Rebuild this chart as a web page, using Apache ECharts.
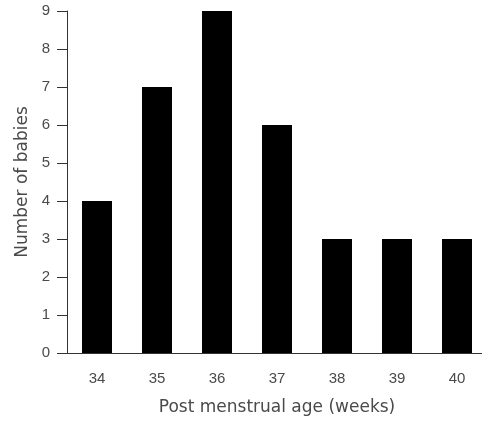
<!DOCTYPE html>
<html>
<head>
<meta charset="utf-8">
<script src="https://cdn.jsdelivr.net/npm/echarts@6/dist/echarts.min.js"></script>
<style>
  html, body { margin: 0; padding: 0; background: #fff; }
  #chart { width: 482px; height: 422px; }
</style>
</head>
<body>
<div id="chart"></div>
<script>
// Distribution of babies by post menstrual age
const weeks = ['34', '35', '36', '37', '38', '39', '40'];
const babies = [4, 7, 9, 6, 3, 3, 3];
const xTitle = 'Post menstrual age (weeks)';
const yTitle = 'Number of babies';

const axisColor = '#333';
const textColor = '#4a4a4a';

const chart = echarts.init(document.getElementById('chart'), null, { renderer: 'canvas' });
chart.setOption({
  animation: false,
  backgroundColor: '#fff',
  grid: {
    left: 67, top: 11, width: 420, height: 342,
    containLabel: false,
    outerBoundsMode: 'none'
  },
  xAxis: {
    type: 'category',
    data: weeks,
    name: xTitle,
    nameLocation: 'middle',
    nameGap: 46,
    nameTextStyle: { fontFamily: 'DejaVu Sans', fontSize: 17, color: textColor },
    axisLine: { lineStyle: { color: axisColor, width: 1 } },
    axisTick: { length: 10, lineStyle: { color: axisColor } },
    axisLabel: { fontFamily: 'Liberation Sans', fontSize: 15, color: textColor, margin: 18 },
    splitLine: { show: false }
  },
  yAxis: {
    type: 'value',
    min: 0,
    max: 9,
    interval: 1,
    name: yTitle,
    nameLocation: 'middle',
    nameGap: 36,
    nameTextStyle: { fontFamily: 'DejaVu Sans', fontSize: 17, color: textColor },
    axisLine: { show: true, lineStyle: { color: axisColor, width: 1 } },
    axisTick: { show: true, length: 10, lineStyle: { color: axisColor } },
    axisLabel: { fontFamily: 'Liberation Sans', fontSize: 15, color: textColor, margin: 17 },
    splitLine: { show: false }
  },
  series: [{
    type: 'bar',
    data: babies,
    barWidth: 30,
    itemStyle: { color: '#000' }
  }]
});
</script>
</body>
</html>
